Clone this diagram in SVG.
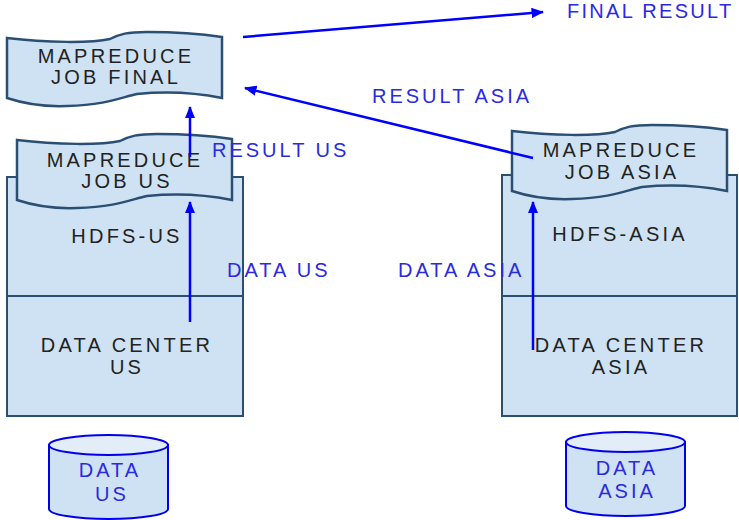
<svg xmlns="http://www.w3.org/2000/svg" width="739" height="520" viewBox="0 0 739 520">
<defs>
<style>
.box{fill:#cfe2f3;stroke:#2b4f73;stroke-width:2}
.doc{fill:#cfe2f3;stroke:#2b4f73;stroke-width:2.5}
.t{font-family:"Liberation Sans",Arial,sans-serif;font-size:20px;letter-spacing:3.2px;fill:#222;text-anchor:middle}
.b{font-family:"Liberation Sans",Arial,sans-serif;font-size:20px;letter-spacing:3px;fill:#2a2ae0}
.bc{text-anchor:middle}
.cyl{fill:#cfe2f3;stroke:#0000ee;stroke-width:2}
.cyltop{fill:#e2edf8;stroke:#0000ee;stroke-width:2}
.arr{stroke:#0000ff;stroke-width:2.5;fill:none;marker-end:url(#ah)}
</style>
<marker id="ah" viewBox="0 0 12 10" refX="11" refY="5" markerWidth="5" markerHeight="4.2" markerUnits="strokeWidth" orient="auto">
<path d="M0,0 L12,5 L0,10 Z" fill="#0000ff"/>
</marker>
<path id="docshape" d="M0,7 C40,12 85,12 103,8 C113,3 120,1 140,1 C170,1 195,3 215,6 L215,67 C190,62 160,60 130,63 C115,66 100,74 60,75 C35,76 15,72 0,67 Z"/>
</defs>

<g id="dc-us">
<rect class="box" x="7" y="177" width="236" height="239"/>
<line class="box" x1="7" y1="296" x2="243" y2="296"/>
<text class="t" x="127" y="243">HDFS-US</text>
<text class="t" x="127" y="352">DATA CENTER</text>
<text class="t" x="127" y="374">US</text>
</g>

<g id="dc-asia">
<rect class="box" x="502" y="175" width="235" height="241"/>
<line class="box" x1="502" y1="296" x2="737" y2="296"/>
<text class="t" x="620" y="241">HDFS-ASIA</text>
<text class="t" x="621" y="352">DATA CENTER</text>
<text class="t" x="621" y="374">ASIA</text>
</g>

<g id="job-final">
<use href="#docshape" class="doc" transform="translate(7,31)"/>
<text class="t" x="116" y="63">MAPREDUCE</text>
<text class="t" x="116" y="84">JOB FINAL</text>
</g>

<g id="job-us">
<use href="#docshape" class="doc" transform="translate(17,133)"/>
<text class="t" x="125" y="167">MAPREDUCE</text>
<text class="t" x="127" y="188">JOB US</text>
</g>

<g id="job-asia">
<use href="#docshape" class="doc" transform="translate(512,124)"/>
<text class="t" x="621" y="157">MAPREDUCE</text>
<text class="t" x="622" y="179">JOB ASIA</text>
</g>

<g id="data-us">
<path class="cyl" d="M49,445 L49,509 A59.5,10 0 0 0 168,509 L168,445 Z"/>
<ellipse class="cyltop" cx="108.5" cy="445" rx="59.5" ry="10"/>
<text class="b bc" x="110" y="477">DATA</text>
<text class="b bc" x="112" y="501">US</text>
</g>

<g id="data-asia">
<path class="cyl" d="M566,442 L566,506 A59.5,10 0 0 0 685,506 L685,442 Z"/>
<ellipse class="cyltop" cx="625.5" cy="442" rx="59.5" ry="10"/>
<text class="b bc" x="627" y="475">DATA</text>
<text class="b bc" x="627" y="498">ASIA</text>
</g>

<g id="connectors">
<line class="arr" x1="243" y1="37" x2="543" y2="12"/>
<line class="arr" x1="533" y1="158" x2="245" y2="88"/>
<line class="arr" x1="190" y1="157" x2="190" y2="107"/>
<line class="arr" x1="190" y1="322" x2="190" y2="202"/>
<line class="arr" x1="533" y1="350" x2="533" y2="202"/>
</g>

<g id="labels">
<text class="b" x="567" y="18" style="letter-spacing:2.3px">FINAL RESULT</text>
<text class="b" x="372" y="103">RESULT ASIA</text>
<text class="b" x="212" y="157">RESULT US</text>
<text class="b" x="227" y="277">DATA US</text>
<text class="b" x="398" y="277">DATA ASIA</text>
</g>
</svg>
